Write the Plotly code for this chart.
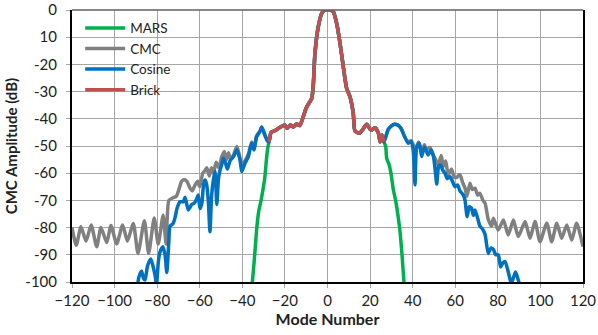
import plotly.graph_objects as go

# ---------------- data ----------------
# Brick window: central part shared by all series
brick_x = [-27.5, -26.5, -25.0, -23.0, -21.5, -20.0, -19.0, -17.5, -16.0, -14.5, -13.0,
           -11.5, -10.0, -8.5, -7.4, -6.7, -5.9, -4.3, -2.7, -1.2, 0.0, 1.2, 2.7, 4.3,
           5.9, 7.4, 9.0, 10.6, 12.1, 12.9, 15.0, 16.5, 18.4, 20.0, 20.8, 22.3, 23.9,
           24.7, 25.6, 26.5]
brick_y = [-48.5, -45.0, -44.5, -43.5, -42.8, -42.3, -43.5, -42.3, -43.0, -41.9, -42.5,
           -39.5, -36.0, -34.0, -32.5, -28.0, -16.0, -6.0, -1.2, 0.0, 0.0, 0.0, -0.6, -4.9,
           -12.3, -20.8, -28.8, -32.0, -38.0, -44.5, -45.3, -44.0, -42.0, -43.8, -44.1,
           -43.3, -45.3, -48.5, -46.0, -48.5]

# MARS tails
mars_left_x = [-35.4, -34.5, -33.8, -33.2, -32.3, -31.2, -30.3, -29.5, -28.8, -28.2]
mars_left_y = [-101.0, -93.0, -86.0, -80.0, -74.0, -70.0, -66.0, -62.0, -56.0, -51.5]
mars_right_x = [27.3, 27.8, 29.0, 30.0, 30.9, 32.0, 33.0, 34.0, 35.0, 36.0]
mars_right_y = [-50.0, -54.5, -57.0, -61.0, -66.0, -70.0, -75.0, -81.0, -90.0, -101.0]

# Cosine tails
cos_left_x = [-89.2, -88.5, -87.3, -86.5, -85.7, -84.5, -83.0, -82.0, -81.0, -80.3,
              -79.5, -78.7, -77.3, -76.3, -75.5, -74.5, -74.0, -72.5, -71.5, -70.7,
              -69.3, -67.7, -66.9, -65.4, -64.5, -63.8, -62.5, -61.5, -60.7, -59.9,
              -59.0, -58.2, -57.5, -56.8, -56.0, -55.2, -54.4, -53.6, -52.8, -52.0,
              -51.2, -50.5, -49.7, -48.9, -48.0, -47.0, -45.8, -44.2, -42.6, -41.1,
              -40.3, -38.8, -37.2, -35.6, -34.5, -33.3, -31.7, -30.9, -29.4, -28.3]
cos_left_y = [-101.0, -98.0, -96.0, -98.5, -99.3, -94.0, -91.5, -94.0, -97.5, -101.0,
              -93.0, -89.0, -87.0, -90.0, -96.5, -85.0, -79.5, -78.5, -76.0, -73.0,
              -70.5, -70.5, -68.8, -73.5, -72.5, -71.5, -71.0, -69.5, -68.0, -73.0,
              -71.0, -64.0, -62.5, -64.0, -70.0, -81.5, -68.0, -62.5, -59.4, -71.5,
              -62.0, -59.0, -57.0, -54.5, -56.0, -58.5, -55.5, -54.0, -51.5, -55.0,
              -59.4, -56.4, -54.0, -49.0, -51.5, -46.6, -44.7, -43.0, -46.0, -48.0]
cos_right_x = [27.2, 28.6, 30.2, 31.5, 33.0, 34.5, 36.2, 37.9, 39.3, 40.3, 41.1, 41.9,
               43.2, 44.2, 45.5, 46.5, 47.3, 48.7, 49.8, 50.6, 51.3, 52.2, 53.0, 54.2,
               55.2, 56.2, 57.5, 58.7, 59.9, 61.1, 62.2, 63.8, 64.6, 65.6, 66.6, 67.7,
               68.5, 69.3, 70.5, 71.6, 72.8, 74.0, 75.5, 76.8, 77.9, 79.0, 80.2, 81.3,
               82.3, 83.4, 84.9, 86.3, 87.3, 88.3, 89.2, 90.2]
cos_right_y = [-47.0, -43.8, -42.5, -42.0, -42.3, -43.5, -46.5, -49.0, -48.4, -52.0,
               -64.3, -50.5, -49.0, -53.9, -50.5, -52.0, -53.3, -51.5, -54.0, -59.0,
               -64.0, -57.5, -57.0, -59.0, -60.0, -62.0, -61.3, -63.0, -65.0, -64.3,
               -66.5, -68.0, -70.0, -76.0, -72.3, -73.0, -75.5, -73.5, -76.5, -79.5,
               -80.5, -82.5, -89.5, -87.5, -88.0, -90.0, -90.0, -94.5, -93.0, -92.5,
               -96.3, -100.5, -98.5, -96.3, -98.2, -101.0]

# CMC tails
cmc_left_x = [-120.0, -118.0, -115.8, -113.4, -111.0, -108.4, -106.4, -103.7, -101.7,
              -99.0, -96.2, -94.0, -91.2, -89.0, -86.0, -84.0, -81.4, -79.5, -77.2,
              -75.8, -74.5, -72.5, -71.0, -70.0, -68.5, -67.3, -66.0, -64.6, -63.5,
              -62.3, -61.0, -60.0, -58.6, -57.5, -56.7, -55.5, -54.5, -53.5, -52.3,
              -51.0, -49.7, -48.5, -47.5, -46.5, -45.5, -44.0, -42.6, -41.5, -40.3,
              -38.8, -37.2, -35.6, -34.5, -33.3, -31.7, -30.9, -29.4, -28.3]
cmc_left_y = [-80.0, -86.5, -79.7, -85.0, -79.0, -87.0, -80.0, -85.5, -79.2,
              -86.0, -79.0, -85.0, -78.5, -89.5, -77.5, -89.5, -76.5, -86.0, -75.5,
              -86.0, -70.0, -69.0, -68.5, -66.5, -63.0, -62.3, -63.0, -65.5, -66.5,
              -64.5, -63.0, -65.0, -60.0, -59.0, -58.0, -61.0, -58.0, -60.0, -56.0,
              -58.0, -54.0, -52.0, -55.0, -52.5, -55.0, -53.0, -50.2, -53.0, -57.0,
              -55.5, -53.0, -48.5, -51.0, -46.3, -44.5, -43.0, -46.0, -48.0]
cmc_right_x = [27.2, 28.6, 30.2, 31.5, 33.0, 34.5, 36.2, 37.9, 39.3, 40.5, 41.1, 42.7,
               44.2, 45.5, 46.5, 48.1, 49.5, 50.8, 52.0, 53.4, 54.4, 55.5, 56.7, 58.3,
               59.5, 60.7, 62.2, 63.5, 64.6, 65.5, 66.9, 68.0, 69.3, 70.5, 71.6, 73.0,
               74.0, 75.5, 77.1, 77.9, 80.2, 82.6, 84.9, 87.3, 89.6, 92.8, 95.1, 97.5,
               99.8, 103.0, 105.3, 107.7, 110.0, 112.4, 114.7, 117.0, 120.0]
cmc_right_y = [-47.0, -43.8, -42.5, -42.0, -42.3, -43.5, -46.5, -48.5, -48.0, -50.0,
               -52.0, -48.5, -52.0, -49.5, -51.5, -50.5, -53.0, -55.0, -57.0, -53.5,
               -57.5, -55.5, -60.5, -58.5, -61.5, -61.5, -60.5, -63.5, -65.5, -68.5,
               -63.7, -66.0, -65.5, -68.0, -67.4, -70.0, -71.0, -77.0, -79.5, -76.6,
               -80.9, -77.2, -82.7, -77.2, -83.3, -77.8, -83.9, -77.8, -85.2, -78.4,
               -85.2, -78.4, -83.9, -79.0, -84.6, -78.4, -87.0]

series_names = ["MARS", "CMC", "Cosine", "Brick"]
series_colors = ["#00B050", "#808080", "#0070C0", "#C0504D"]

y_tickvals = [0, -10, -20, -30, -40, -50, -60, -70, -80, -90, -100]
y_ticktext = ["0", "10", "-20", "-30", "-40", "-50", "-60", "-70", "-80", "-90", "-100"]
x_tickvals = [-120, -100, -80, -60, -40, -20, 0, 20, 40, 60, 80, 100, 120]

# ---------------- build series ----------------
series_x = [
    mars_left_x + brick_x + mars_right_x,
    cmc_left_x + brick_x + cmc_right_x,
    cos_left_x + brick_x + cos_right_x,
    brick_x,
]
series_y = [
    mars_left_y + brick_y + mars_right_y,
    cmc_left_y + brick_y + cmc_right_y,
    cos_left_y + brick_y + cos_right_y,
    brick_y,
]

fig = go.Figure()
for name, color, xs, ys in zip(series_names, series_colors, series_x, series_y):
    fig.add_trace(go.Scatter(
        x=xs, y=ys, mode="lines", name=name,
        line=dict(color=color, width=3.5, shape="spline", smoothing=0.6),
    ))

font_family = "Lato, Carlito, 'Open Sans', sans-serif"
fig.update_layout(
    width=598, height=335,
    margin=dict(l=72, r=15, t=10, b=53),
    paper_bgcolor="white", plot_bgcolor="white",
    font=dict(family=font_family, size=15, color="#222222"),
    showlegend=True,
    legend=dict(
        x=0.016, y=0.99, xanchor="left", yanchor="top",
        bgcolor="rgba(0,0,0,0)", font=dict(size=13.5, color="#222222"),
        itemwidth=40, tracegroupgap=0,
    ),
    xaxis=dict(
        range=[-120, 120], tickvals=x_tickvals, automargin=False,
        showgrid=True, gridcolor="#A6A6A6", gridwidth=1,
        zeroline=False,
        showline=True, linecolor="black", linewidth=2,
        ticks="outside", ticklen=4, tickcolor="#A6A6A6",
        tickfont=dict(size=15),
        title=dict(text="<b>Mode Number</b>", font=dict(size=16), standoff=6),
    ),
    yaxis=dict(
        range=[-100, 0], tickvals=y_tickvals, ticktext=y_ticktext, automargin=False,
        showgrid=True, gridcolor="#A6A6A6", gridwidth=1,
        zeroline=False,
        showline=True, linecolor="black", linewidth=2, mirror=True,
        ticks="outside", ticklen=4, tickcolor="#A6A6A6",
        tickfont=dict(size=15),
        ticklabelstandoff=6,
        title=dict(text="<b>CMC Amplitude (dB)</b>", font=dict(size=15), standoff=4),
    ),
)
fig.add_shape(type="line", xref="paper", yref="paper", x0=0, x1=1, y0=1, y1=1,
              line=dict(color="#606060", width=1.5))

fig.write_html("out.html")
